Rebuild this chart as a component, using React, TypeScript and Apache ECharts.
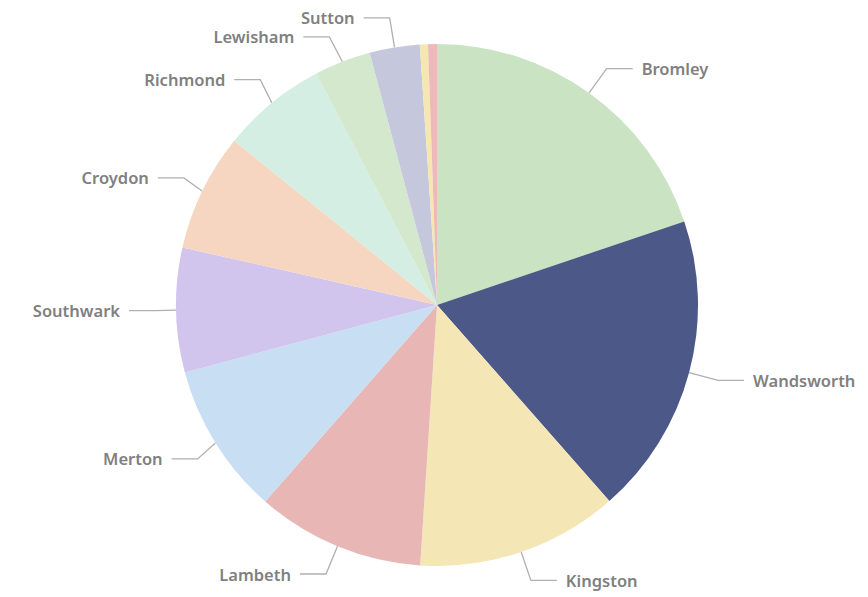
import React, { useEffect, useRef } from "react";
import * as echarts from "echarts";

const boroughs = ["Bromley", "Wandsworth", "Kingston", "Lambeth", "Merton", "Southwark", "Croydon", "Richmond", "Lewisham", "Sutton", "Other A", "Other B"];
const shares = [19.8, 18.7, 12.5, 10.4, 9.4, 7.7, 7.3, 6.5, 3.5, 3.1, 0.5, 0.55];
const sliceColors = ["#c9e3c3", "#4b5888", "#f5e7b5", "#e8b7b5", "#c8def2", "#d2c5ed", "#f6d6c0", "#d4eee4", "#d3e8cd", "#c5c8dc", "#f6e6b2", "#ecbaba"];
const hiddenLabels = ["Other A", "Other B"];

export default function App() {
  const ref = useRef<HTMLDivElement>(null);
  useEffect(() => {
    if (!ref.current) return;
    const chart = echarts.init(ref.current, null, { renderer: "svg" });
    chart.setOption({
      animation: false,
      series: [
        {
          type: "pie",
          center: [437, 305],
          radius: 261,
          startAngle: 90,
          clockwise: true,
          avoidLabelOverlap: true,
          label: {
            show: true,
            color: "#808080",
            fontSize: 16.5,
            fontWeight: 600,
            fontFamily: "Noto Sans",
            distanceToLabelLine: 9,
            overflow: "none",
            edgeDistance: 0,
          },
          labelLine: {
            show: true,
            length: 30,
            length2: 26,
            lineStyle: { color: "#b0b0b0", width: 1.3 },
          },
          data: boroughs.map((name, i) => ({
            name,
            value: shares[i],
            itemStyle: { color: sliceColors[i] },
            label: hiddenLabels.includes(name) ? { show: false } : undefined,
            labelLine: hiddenLabels.includes(name) ? { show: false } : undefined,
          })),
        },
      ],
    });
    return () => chart.dispose();
  }, []);
  return (
    <div
      ref={ref}
      style={{ position: "fixed", left: 0, top: 0, width: 868, height: 597, background: "#ffffff" }}
    />
  );
}
